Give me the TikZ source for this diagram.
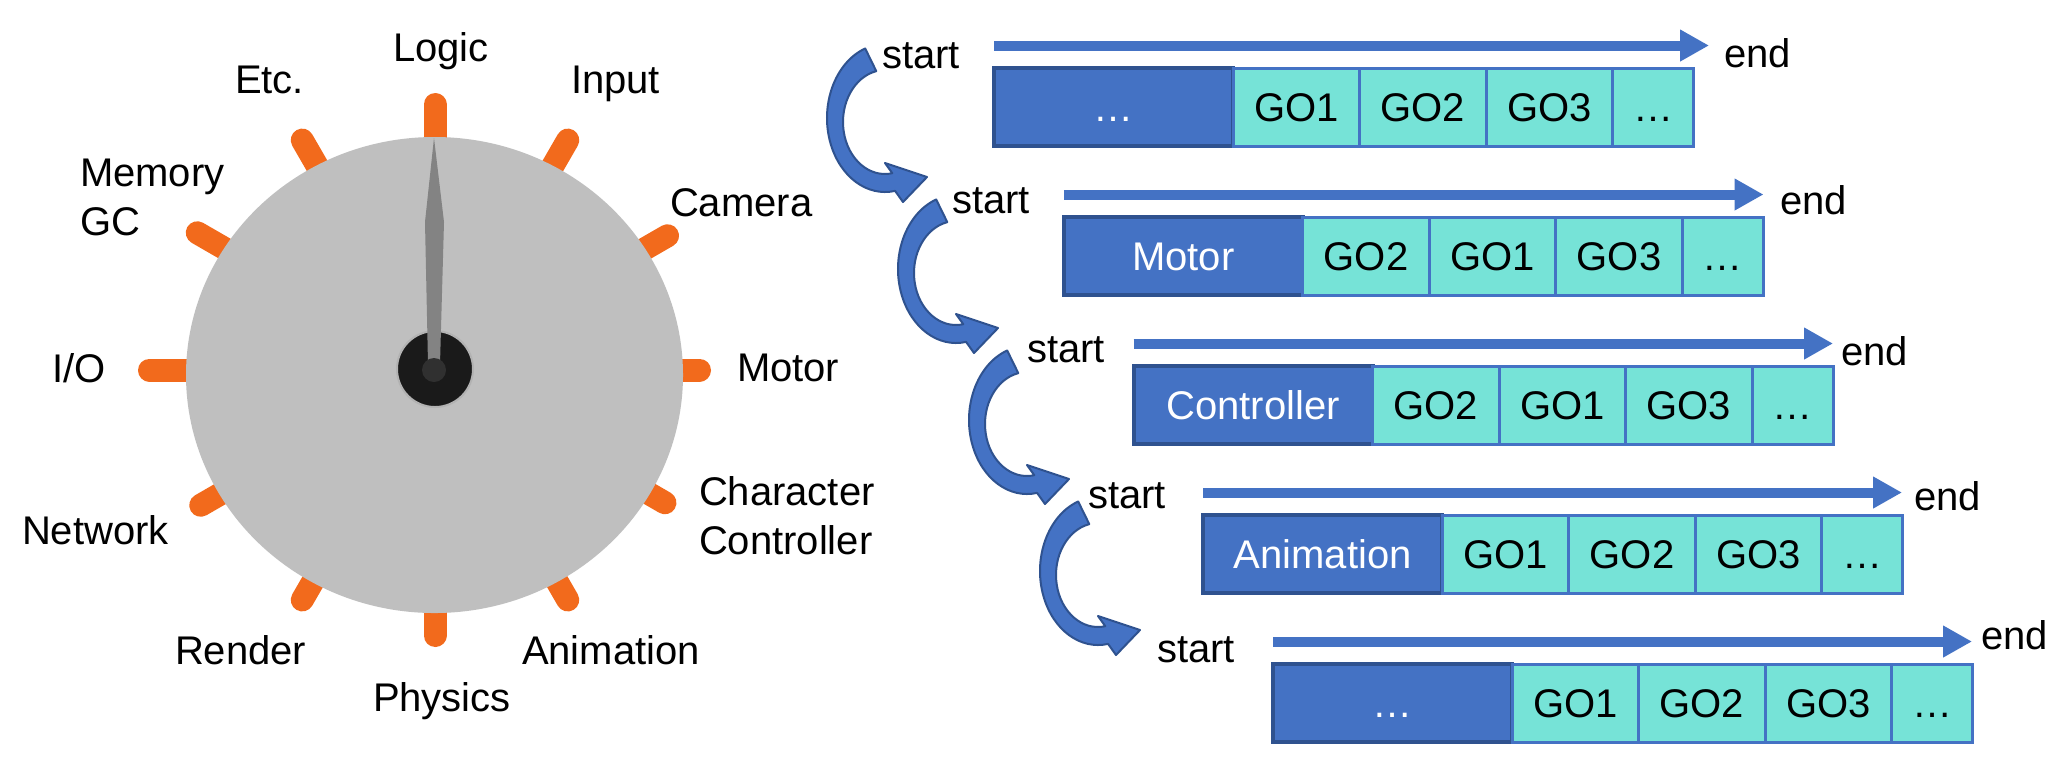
\documentclass[tikz,border=0pt]{standalone}
\usepackage{fontspec}
\setmainfont{Liberation Sans}
\usetikzlibrary{arrows.meta}
\definecolor{dialgray}{HTML}{BFBFBF}
\definecolor{tickorange}{HTML}{F26A1C}
\definecolor{needlegray}{HTML}{838383}
\definecolor{hubblack}{HTML}{1A1A1A}
\definecolor{hubinner}{HTML}{303030}
\definecolor{barblue}{HTML}{4472C4}
\definecolor{bardark}{HTML}{2F528F}
\definecolor{cellcyan}{HTML}{76E3D7}
\tikzset{
  dialtick/.style={line width=11.5pt, line cap=round, draw=tickorange},
  dlabel/.style={inner sep=0pt, outer sep=0pt, anchor=base west},
  cellbase/.style={inner sep=0pt, outer sep=0pt, minimum height=39pt, text height=14.5pt, text depth=0pt, anchor=north west},
  darkcell/.style={cellbase, fill=barblue, draw=bardark, line width=2pt, text=white, minimum width=119.5pt},
  gocell/.style={cellbase, fill=cellcyan, draw=barblue, line width=1.5pt, minimum width=63.25pt},
  dotcell/.style={gocell, minimum width=40.5pt},
  flowarrow/.style={draw=barblue, line width=5pt, -{Triangle[length=14.5pt,width=15pt]}},
  curvearrow/.style={fill=barblue, draw=bardark, line width=1pt, line join=round},
}
\begin{document}
\begin{tikzpicture}[x=0.5pt,y=-0.5pt,font=\fontsize{20}{24}\selectfont]
\useasboundingbox (0,0) rectangle (2064,768);
\fill[white] (0,0) rectangle (2064,768);

% ---------- dial ----------
\foreach \a/\rr in {90/277,60/277,30/280,0/276,-30/277,-60/277,-90/277,-120/277,-150/282,180/297,150/286,120/277}
  \draw[dialtick, shift={(435,370)}] (-\a:180) -- (-\a:{\rr-11.5});
\fill[dialgray] (434.5,375) ellipse [x radius=248.5, y radius=238];
\filldraw[fill=hubblack, draw=gray!60, line width=1pt] (435,369) circle[radius=38];
\fill[needlegray] (434,138) -- (425,222) -- (428,364) -- (440,364) -- (444,222) -- cycle;
\fill[hubinner] (434,370) circle[radius=12];

\node[dlabel] (lLogic) at (393,61) {Logic};
\node[dlabel] (lEtc) at (235,93) {Etc.};
\node[dlabel] (lInput) at (571,93) {Input};
\node[dlabel] (lMemory) at (80,186) {Memory};
\node[dlabel] (lGC) at (80,235) {GC};
\node[dlabel] (lCamera) at (670,216) {Camera};
\node[dlabel] (lIO) at (52,382) {I/O};
\node[dlabel] (lMotor) at (737,381) {Motor};
\node[dlabel] (lCharacter) at (699,505) {Character};
\node[dlabel] (lController) at (699,554) {Controller};
\node[dlabel] (lNetwork) at (22,544) {Network};
\node[dlabel] (lRender) at (175,664) {Render};
\node[dlabel] (lAnimation) at (522,664) {Animation};
\node[dlabel] (lPhysics) at (373,711) {Physics};

% ---------- curved arrows ----------
\foreach \k in {0,1,2,3} {
  \begin{scope}[shift={({885+71*\k},{118+151*\k})}]
    \filldraw[curvearrow] (-110:58 and 74) arc[start angle=-110, end angle=-280, x radius=58, y radius=74]
      -- (18,84) -- (42,59) -- (0,45) -- (7.29,55.2)
      arc[start angle=80, end angle=258, x radius=42, y radius=52] -- cycle;
  \end{scope}
}

% ---------- rows ----------
\foreach \r/\lab/\ga/\gb/\gc/\tipx/\sx/\sb/\ex/\eb in {
  0/…/GO1/GO2/GO3/1709/882/68/1724/67,
  1/Motor/GO2/GO1/GO3/1763.5/952/213/1780/214,
  2/Controller/GO2/GO1/GO3/1833/1027/362/1841/365,
  3/Animation/GO1/GO2/GO3/1902/1088/508/1914/510,
  4/…/GO1/GO2/GO3/1972/1157/662/1981/649} {
  \pgfmathsetmacro\L{994+69.75*\r}
  \pgfmathsetmacro\T{68+149*\r}
  \pgfmathsetmacro\Y{\T-22.5}
  \node[darkcell] (d\r) at (\L,\T) {\lab};
  \node[gocell] (ga\r) at (d\r.north east) {\ga};
  \node[gocell] (gb\r) at (ga\r.north east) {\gb};
  \node[gocell] (gc\r) at (gb\r.north east) {\gc};
  \node[dotcell] (gd\r) at (gc\r.north east) {…};
  \coordinate (s\r) at (\L,\Y);
  \coordinate (e\r) at (\tipx,\Y);
  \draw[flowarrow] (s\r) -- (e\r);
  \node[dlabel] (st\r) at (\sx,\sb) {start};
  \node[dlabel] (en\r) at (\ex,\eb) {end};
}
\end{tikzpicture}
\end{document}
